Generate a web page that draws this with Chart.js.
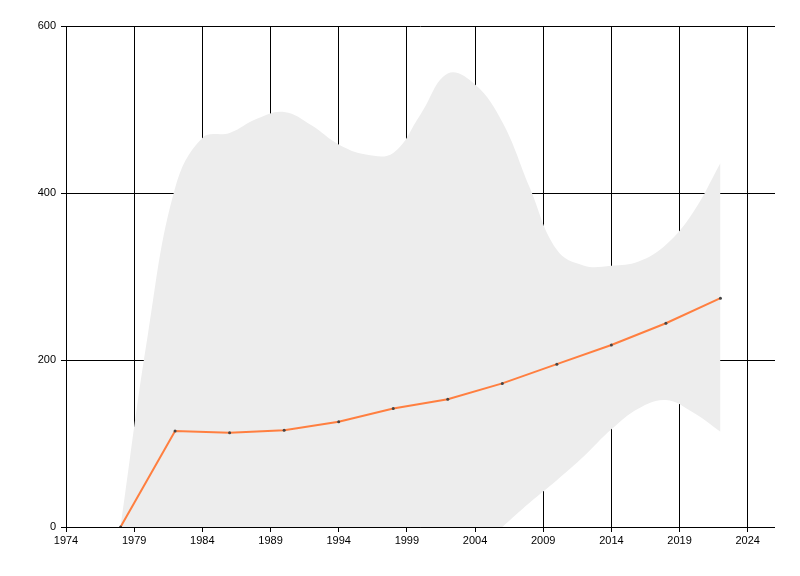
<!DOCTYPE html>
<html>
<head>
<meta charset="utf-8">
<script src="https://cdn.jsdelivr.net/npm/chart.js@4"></script>
<style>
  body { margin: 0; background: #fff; }
</style>
</head>
<body>
<canvas id="chart" width="800" height="576"></canvas>
<script>
// data
const years = [1978, 1982, 1986, 1990, 1994, 1998, 2002, 2006, 2010, 2014, 2018, 2022];
const lineValues = [0, 115, 113, 116, 126, 142, 153, 172, 195, 218, 244, 274];
// grey band, sampled every 2 years
const bandYears = [1978, 1980, 1982, 1984, 1986, 1988, 1990, 1992, 1994, 1996, 1998, 2000,
                   2002, 2004, 2006, 2008, 2010, 2012, 2014, 2016, 2018, 2020, 2022];
const bandUpper = [0, 230, 406, 466, 472, 489, 497, 481, 458, 446, 448, 494,
                   543, 530, 485, 407, 332, 313, 313, 318, 338, 377, 436];
const bandLower = [0, -50, -80, -90, -100, -100, -100, -100, -100, -90, -80, -70,
                   -55, -30, 0, 29, 56, 85, 117, 142, 152, 137, 114];
const xTicks = [1974, 1979, 1984, 1989, 1994, 1999, 2004, 2009, 2014, 2019, 2024];
const yTicks = [0, 200, 400, 600];

const toPoints = (xs, vals) => xs.map((x, i) => ({ x: x, y: vals[i] }));

// axis lines go on top of the grey band
const axisLines = {
    id: 'axisLines',
    afterDatasetsDraw(chart) {
        const { ctx, chartArea } = chart;
        ctx.save();
        ctx.strokeStyle = '#000';
        ctx.lineWidth = 1;
        ctx.beginPath();
        ctx.moveTo(Math.round(chartArea.left) + 0.5, chartArea.top);
        ctx.lineTo(Math.round(chartArea.left) + 0.5, Math.round(chartArea.bottom) + 0.5);
        ctx.lineTo(chartArea.right, Math.round(chartArea.bottom) + 0.5);
        ctx.stroke();
        ctx.restore();
    }
};

const ctx = document.getElementById('chart').getContext('2d');
new Chart(ctx, {
    type: 'line',
    data: {
        datasets: [
            {
                label: 'value',
                data: toPoints(years, lineValues),
                borderColor: '#ff7f40',
                borderWidth: 2,
                pointRadius: 1.5,
                pointBackgroundColor: '#444',
                pointBorderWidth: 0,
                tension: 0,
                fill: false,
                order: 0
            },
            {
                label: 'upper',
                data: toPoints(bandYears, bandUpper),
                borderWidth: 0,
                pointRadius: 0,
                backgroundColor: '#ededed',
                tension: 0.4,
                fill: '+1',
                order: 1
            },
            {
                label: 'lower',
                data: toPoints(bandYears, bandLower),
                borderWidth: 0,
                pointRadius: 0,
                tension: 0.4,
                fill: false,
                order: 2
            }
        ]
    },
    options: {
        responsive: false,
        animation: false,
        layout: { padding: { top: 26, right: 25, left: 0, bottom: 0 } },
        plugins: {
            legend: { display: false },
            tooltip: { enabled: false }
        },
        scales: {
            x: {
                type: 'linear',
                min: 1974,
                max: 2026,
                afterBuildTicks: scale => { scale.ticks = xTicks.map(v => ({ value: v })); },
                afterFit: scale => { scale.height = 49; },
                grid: { color: '#000', lineWidth: 1, tickLength: 5, drawTicks: true },
                border: { display: false },
                ticks: {
                    color: '#000',
                    padding: 2,
                    maxRotation: 0,
                    autoSkip: false,
                    font: { family: 'Liberation Sans, Arial, sans-serif', size: 11 },
                    callback: v => String(v)
                }
            },
            y: {
                min: 0,
                max: 600,
                afterBuildTicks: scale => { scale.ticks = yTicks.map(v => ({ value: v })); },
                afterFit: scale => { scale.width = 66; },
                grid: { color: '#000', lineWidth: 1, tickLength: 5, drawTicks: true },
                border: { display: false },
                ticks: {
                    color: '#000',
                    padding: 5,
                    font: { family: 'Liberation Sans, Arial, sans-serif', size: 11 },
                    callback: v => String(v)
                }
            }
        }
    },
    plugins: [axisLines]
});
</script>
</body>
</html>
